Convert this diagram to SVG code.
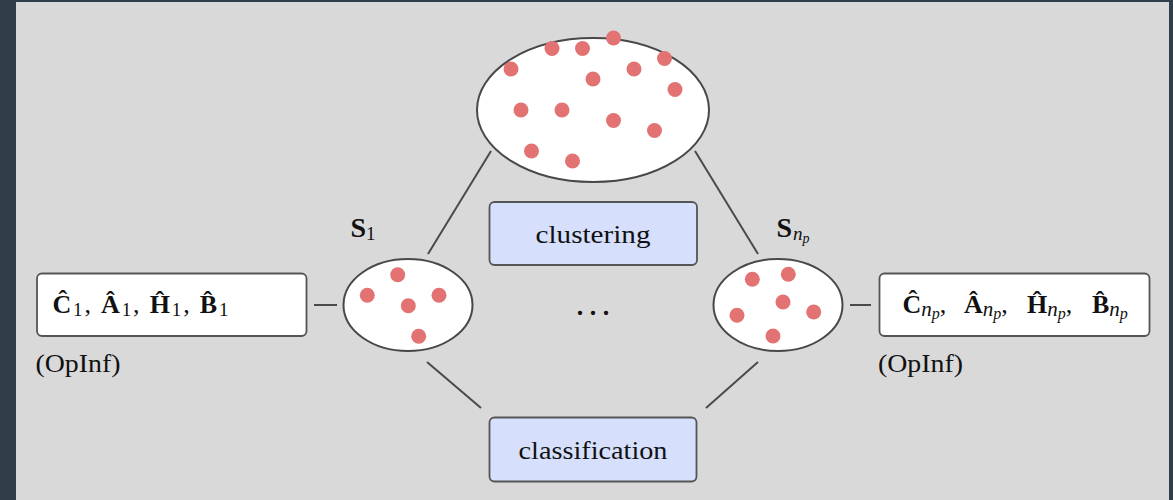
<svg xmlns="http://www.w3.org/2000/svg" width="1173" height="500" viewBox="0 0 1173 500">
<style>
.bg{fill:#2f3e48}
.panel{fill:#d9d9d9}
.cl{fill:#ffffff;stroke:#484848;stroke-width:2}
.dot{fill:#e37373}
.conn line{stroke:#4a4a4a;stroke-width:2;fill:none}
.box{fill:#ffffff;stroke:#555555;stroke-width:1.8}
.pbox{fill:#d6e0fc;stroke:#555555;stroke-width:1.8}
.t{font-family:"Liberation Serif","Times New Roman",serif;fill:#111111}
.b{font-weight:bold}
.i{font-style:italic}
</style>
<rect class="bg" x="0" y="0" width="1173" height="500"/>
<rect class="panel" x="16" y="2" width="1153" height="498"/>

<g id="connectors" class="conn">
<line x1="491" y1="151" x2="428" y2="254"/>
<line x1="695" y1="151" x2="758" y2="254"/>
<line x1="314" y1="305" x2="337" y2="305"/>
<line x1="850" y1="305" x2="871" y2="305"/>
<line x1="427" y1="362" x2="481" y2="408"/>
<line x1="758" y1="362" x2="706" y2="408"/>
</g>

<g id="all-data">
<ellipse class="cl" cx="593" cy="110" rx="116" ry="72"/>
<circle class="dot" cx="511" cy="69" r="7.5"/>
<circle class="dot" cx="552" cy="48.5" r="7.5"/>
<circle class="dot" cx="582.5" cy="48.5" r="7.5"/>
<circle class="dot" cx="613.5" cy="38" r="7.5"/>
<circle class="dot" cx="593" cy="79" r="7.5"/>
<circle class="dot" cx="634" cy="69" r="7.5"/>
<circle class="dot" cx="664.5" cy="58.5" r="7.5"/>
<circle class="dot" cx="675" cy="89.5" r="7.5"/>
<circle class="dot" cx="521" cy="110" r="7.5"/>
<circle class="dot" cx="562" cy="110" r="7.5"/>
<circle class="dot" cx="613.5" cy="120.5" r="7.5"/>
<circle class="dot" cx="654.5" cy="130.5" r="7.5"/>
<circle class="dot" cx="531.5" cy="151" r="7.5"/>
<circle class="dot" cx="572.5" cy="161" r="7.5"/>
</g>

<g id="cluster-1">
<ellipse class="cl" cx="408" cy="305" rx="64.5" ry="46"/>
<circle class="dot" cx="397.7" cy="274.7" r="7.5"/>
<circle class="dot" cx="367.3" cy="295.3" r="7.5"/>
<circle class="dot" cx="439" cy="295.3" r="7.5"/>
<circle class="dot" cx="408.3" cy="305.7" r="7.5"/>
<circle class="dot" cx="418.7" cy="336.3" r="7.5"/>
<text class="t" x="350.5" y="237" font-size="28"><tspan class="b">S</tspan><tspan font-size="19" dy="2.5">1</tspan></text>
</g>

<g id="cluster-np">
<ellipse class="cl" cx="778" cy="305" rx="64.5" ry="46"/>
<circle class="dot" cx="752.3" cy="279.3" r="7.5"/>
<circle class="dot" cx="788.3" cy="274.3" r="7.5"/>
<circle class="dot" cx="783" cy="302" r="7.5"/>
<circle class="dot" cx="737" cy="315.3" r="7.5"/>
<circle class="dot" cx="813.7" cy="312" r="7.5"/>
<circle class="dot" cx="773" cy="336" r="7.5"/>
<text class="t" x="776.5" y="237" font-size="28"><tspan class="b">S</tspan><tspan class="i" font-size="19" dx="1" dy="2.5">n</tspan><tspan class="i" font-size="14" dy="3.5">p</tspan></text>
</g>

<g id="dots-between">
<text class="t" y="314.5" font-size="36"><tspan x="575.5">.</tspan><tspan x="588.5">.</tspan><tspan x="601.5">.</tspan></text>
</g>

<g id="clustering">
<rect class="pbox" x="489.5" y="202" width="207.5" height="63" rx="5"/>
<text class="t" x="593" y="242.5" font-size="26" text-anchor="middle" textLength="115" lengthAdjust="spacingAndGlyphs">clustering</text>
</g>

<g id="classification">
<rect class="pbox" x="489.5" y="417.5" width="207" height="64" rx="5"/>
<text class="t" x="593" y="458.5" font-size="26" text-anchor="middle" textLength="149" lengthAdjust="spacingAndGlyphs">classification</text>
</g>

<g id="rom-1">
<rect class="box" x="37" y="273.5" width="269.5" height="62.5" rx="5"/>
<text class="t" x="52.5" y="313" font-size="26" textLength="176" lengthAdjust="spacing"><tspan class="b">Ĉ</tspan><tspan font-size="19" dy="3">1</tspan><tspan dy="-3">, </tspan><tspan class="b">Â</tspan><tspan font-size="19" dy="3">1</tspan><tspan dy="-3">, </tspan><tspan class="b">Ĥ</tspan><tspan font-size="19" dy="3">1</tspan><tspan dy="-3">, </tspan><tspan class="b">B̂</tspan><tspan font-size="19" dy="3">1</tspan></text>
<text class="t" x="35.5" y="372" font-size="25" textLength="85" lengthAdjust="spacingAndGlyphs">(OpInf)</text>
</g>

<g id="rom-np">
<rect class="box" x="879.5" y="273.5" width="270" height="62.5" rx="5"/>
<text class="t" y="313" font-size="26"><tspan class="b" x="902.5">Ĉ</tspan><tspan class="i" font-size="21" dy="3">n</tspan><tspan class="i" font-size="16" dy="3">p</tspan><tspan dy="-6">,</tspan><tspan class="b" x="964">Â</tspan><tspan class="i" font-size="21" dy="3">n</tspan><tspan class="i" font-size="16" dy="3">p</tspan><tspan dy="-6">,</tspan><tspan class="b" x="1027">Ĥ</tspan><tspan class="i" font-size="21" dy="3">n</tspan><tspan class="i" font-size="16" dy="3">p</tspan><tspan dy="-6">,</tspan><tspan class="b" x="1092">B̂</tspan><tspan class="i" font-size="21" dy="3">n</tspan><tspan class="i" font-size="16" dy="3">p</tspan></text>
<text class="t" x="878" y="372" font-size="25" textLength="85" lengthAdjust="spacingAndGlyphs">(OpInf)</text>
</g>
</svg>
